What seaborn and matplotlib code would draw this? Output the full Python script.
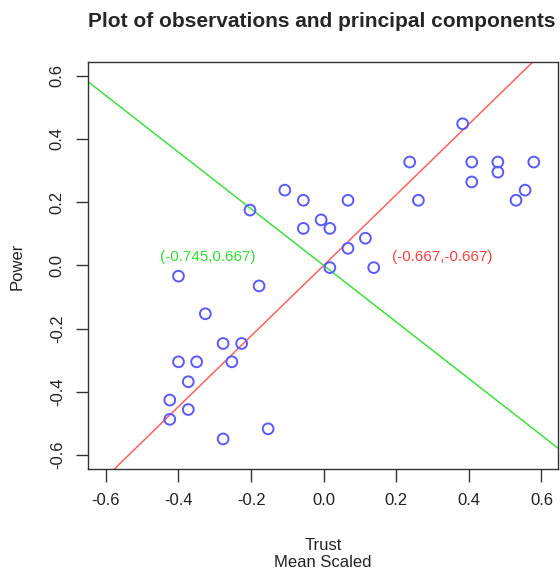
import matplotlib
matplotlib.use("Agg")
import matplotlib.pyplot as plt
import seaborn as sns
import pandas as pd

### DATA ###

trust = [
    0.383, 0.237, 0.408, 0.480, 0.579, 0.480, 0.408, 0.555, 0.530, 0.261,
    -0.107, -0.056, 0.067, -0.203, -0.007, -0.056, 0.017, 0.115, 0.067,
    0.017, 0.138, -0.400, -0.178, -0.326, -0.277, -0.226, -0.400, -0.350,
    -0.253, -0.373, -0.424, -0.373, -0.424, -0.153, -0.277
]

power = [
    0.448, 0.327, 0.327, 0.327, 0.327, 0.295, 0.264, 0.238, 0.206, 0.206,
    0.238, 0.206, 0.206, 0.175, 0.144, 0.117, 0.117, 0.086, 0.054,
    -0.007, -0.007, -0.034, -0.065, -0.153, -0.247, -0.247, -0.305, -0.305,
    -0.305, -0.368, -0.426, -0.456, -0.487, -0.517, -0.549
]

pc1 = [0.667, 0.745]
pc2 = [-0.745, 0.667]

pc1_label = "(-0.667,-0.667)"
pc2_label = "(-0.745,0.667)"

ticks = [-0.6, -0.4, -0.2, 0.0, 0.2, 0.4, 0.6]

df = pd.DataFrame({'Trust': trust, 'Power': power})

### PLOT ###

sns.set_style("ticks")
plt.rcParams['font.family'] = ['Liberation Sans', 'DejaVu Sans']

fig = plt.figure(figsize=(5.6, 5.73), dpi=100)
ax = fig.add_axes([0.158, 0.181, 0.838, 0.710])

sns.scatterplot(
    data=df,
    x='Trust',
    y='Power',
    marker='o',
    s=60,
    facecolors='none',
    edgecolor='#5a5aff',
    linewidth=1.4,
    ax=ax,
    zorder=3
)

# principal component directions through the mean
ax.axline((0, 0), slope=pc1[1] / pc1[0], color='#ff6060', linewidth=1.1)
ax.axline((0, 0), slope=pc2[1] / pc2[0], color='#3ee03e', linewidth=1.1)

ax.text(0.328, 0.026, pc1_label, color='#ff4040',
        ha='center', va='center', fontsize=11)
ax.text(-0.320, 0.026, pc2_label, color='#33dd33',
        ha='center', va='center', fontsize=11)

ax.set_xlim(-0.648, 0.645)
ax.set_ylim(-0.645, 0.642)

ax.set_xticks(ticks)
ax.set_yticks(ticks)
ax.set_xticklabels([f"{t:.1f}" for t in ticks])
ax.set_yticklabels([f"{t:.1f}" for t in ticks], rotation=90, va='center')

ax.tick_params(axis='both', length=9, width=1, color='#333333',
               labelsize=12, labelcolor='#222222', pad=8)

for spine in ax.spines.values():
    spine.set_color('#333333')
    spine.set_linewidth(1)

ax.set_xlabel('Trust\nMean Scaled', fontsize=12, color='#222222',
              labelpad=22, linespacing=1.1)
ax.set_ylabel('Power', fontsize=12, color='#222222', labelpad=18)

fig.text(0.575, 0.963, 'Plot of observations and principal components',
         ha='center', va='center', fontsize=15, fontweight='bold')

fig.savefig('out.png', dpi=100)
